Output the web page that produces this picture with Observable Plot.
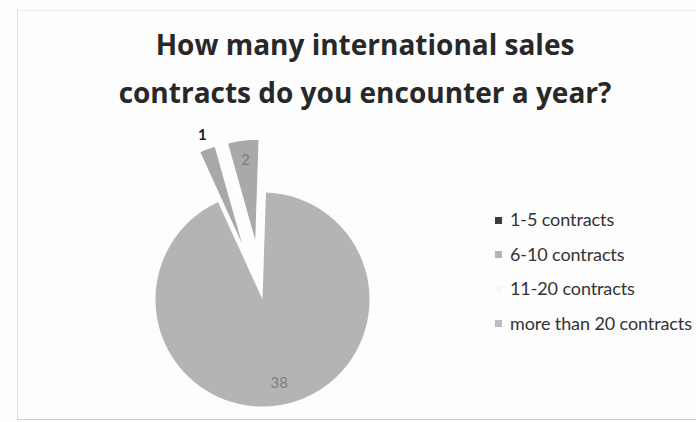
<!DOCTYPE html>
<html><head><meta charset="utf-8">
<script src="https://cdn.jsdelivr.net/npm/d3@7"></script>
<script src="https://cdn.jsdelivr.net/npm/@observablehq/plot@0.6"></script>
<style>
html,body{margin:0;padding:0;background:#fdfdfd;}
#wrap{position:relative;width:696px;height:422px;overflow:hidden;font-family:Lato,"Open Sans",sans-serif;}
#frame{position:absolute;left:17px;top:10px;right:-5px;bottom:2px;border-left:1px solid #dadada;border-top:1px solid #ececec;border-bottom:1px solid #cdcdcd;}
#title{position:absolute;left:0;top:20px;width:730px;text-align:center;font-family:"Open Sans",sans-serif;font-size:28px;line-height:48px;font-weight:bold;color:#282828;letter-spacing:0px;}
#chart{position:absolute;left:0;top:0;}
#legend{position:absolute;left:495px;top:202px;font-size:18px;color:#333;letter-spacing:-0.1px;}
.row{height:34.5px;line-height:34.5px;white-space:nowrap;}
.sw{display:inline-block;width:7px;height:7px;margin-right:8px;vertical-align:middle;position:relative;top:-1px;}
</style></head><body>
<div id="wrap">
 <div id="frame"></div>
 <div id="chart"></div>
 <div id="title">How many international sales<br>contracts do you encounter a year?</div>
 <div id="legend"></div>
</div>
<script>
const categories = ["1-5 contracts", "6-10 contracts", "11-20 contracts", "more than 20 contracts"];
const counts = [0, 1, 2, 38];
const legendColors = ["#3c3c3c", "#b3b3b3", "#f7f7f7", "#bcbcbc"];
const sliceColors = ["#3c3c3c", "#a8a8a8", "#a9a9a9", "#b4b4b4"];
const explodedFlags = [true, true, true, false];

// layout constants
const W = 696, H = 422;
const cx = 262, cy = 299, R = 107, Rsmall = 100, explode = 60;
const firstSliceAngle = -24.5 * Math.PI / 180;

const rows = categories.map((c, i) => ({cat: c, v: counts[i], exploded: explodedFlags[i]}));
const total = d3.sum(rows, d => d.v);
const arcs = d3.pie().sort(null).value(d => d.v)
  .startAngle(firstSliceAngle).endAngle(firstSliceAngle + 2 * Math.PI)(rows)
  .filter(a => a.data.v > 0);

const pts = [];
const labels = [];
for (const a of arcs) {
  const mid = (a.startAngle + a.endAngle) / 2;
  const off = a.data.exploded ? explode : 0;
  const rad = a.data.exploded ? Rsmall : R;
  const ox = cx + off * Math.sin(mid), oy = cy - off * Math.cos(mid);
  pts.push({cat: a.data.cat, x: ox, y: oy});
  const n = Math.max(2, Math.ceil((a.endAngle - a.startAngle) / (Math.PI / 360)));
  for (let k = 0; k <= n; k++) {
    const t = a.startAngle + (a.endAngle - a.startAngle) * k / n;
    pts.push({cat: a.data.cat, x: ox + rad * Math.sin(t), y: oy - rad * Math.cos(t)});
  }
  const share = a.data.v / total;
  const outside = share < 0.03;
  const lr = outside ? rad + 15 : rad * 0.8;
  labels.push({text: String(a.data.v), outside, x: ox + lr * Math.sin(mid), y: oy - lr * Math.cos(mid)});
}

const chart = Plot.plot({
  width: W, height: H, margin: 0,
  x: {domain: [0, W], range: [0, W], axis: null},
  y: {domain: [0, H], range: [0, H], axis: null},
  color: {domain: categories, range: sliceColors},
  style: {background: "transparent", overflow: "visible"},
  marks: [
    Plot.line(pts, {x: "x", y: "y", z: "cat", fill: "cat", stroke: null, curve: "linear"}),
    Plot.text(labels.filter(d => d.outside), {x: "x", y: "y", text: "text", fill: "#1e1e1e", fontSize: 15, fontWeight: "bold", fontFamily: "Lato, sans-serif"}),
    Plot.text(labels.filter(d => !d.outside), {x: "x", y: "y", text: "text", fill: "#7e7e7e", fontSize: 15, fontFamily: "Lato, sans-serif"})
  ]
});
document.getElementById("chart").appendChild(chart);

const legend = document.getElementById("legend");
categories.forEach((c, i) => {
  const row = document.createElement("div");
  row.className = "row";
  const sw = document.createElement("span");
  sw.className = "sw";
  sw.style.background = legendColors[i];
  row.appendChild(sw);
  row.appendChild(document.createTextNode(c));
  legend.appendChild(row);
});
</script>
</body></html>
